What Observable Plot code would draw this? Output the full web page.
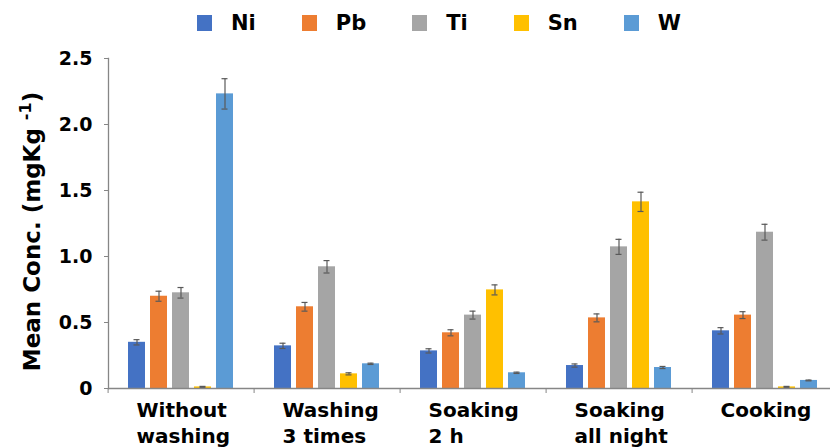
<!DOCTYPE html>
<html>
<head>
<meta charset="utf-8">
<script src="https://cdn.jsdelivr.net/npm/d3@7"></script>
<script src="https://cdn.jsdelivr.net/npm/@observablehq/plot@0.6"></script>
<style>
  html, body { margin: 0; padding: 0; background: #fff; overflow: hidden; }
  #legend { display: flex; align-items: center; height: 45px; padding-left: 197px; box-sizing: border-box;
    font-family: "DejaVu Sans", sans-serif; font-weight: bold; font-size: 21px; color: #000; }
  #legend .sw { display: inline-block; width: 15px; height: 16px; margin-right: 19px; }
  #legend .it { display: flex; align-items: center; margin-right: 46px; }
</style>
</head>
<body>
<div id="legend"></div>
<div id="chart"></div>
<script>
// ---- data ----
const groups = ["Without washing", "Washing 3 times", "Soaking 2 h", "Soaking all night", "Cooking"];
const groupLabels = ["Without\nwashing", "Washing\n3 times", "Soaking\n2 h", "Soaking\nall night", "Cooking"];
const metals = ["Ni", "Pb", "Ti", "Sn", "W"];
const ni = [0.350, 0.323, 0.285, 0.174, 0.437];
const pb = [0.699, 0.619, 0.422, 0.535, 0.556];
const ti = [0.725, 0.922, 0.556, 1.073, 1.184];
const sn = [0.012, 0.111, 0.747, 1.414, 0.012];
const w  = [2.232, 0.187, 0.119, 0.159, 0.061];
const niErr = [0.020, 0.020, 0.016, 0.012, 0.024];
const pbErr = [0.038, 0.033, 0.023, 0.030, 0.026];
const tiErr = [0.040, 0.047, 0.030, 0.057, 0.060];
const snErr = [0.004, 0.008, 0.038, 0.073, 0.004];
const wErr  = [0.115, 0.005, 0.005, 0.008, 0.003];
const yTicks = [0, 0.5, 1.0, 1.5, 2.0, 2.5];
const yTitle = "Mean Conc. (mgKg -1)";
const colors = ["#4472C4", "#ED7D31", "#A5A5A5", "#FFC000", "#5B9BD5"];

const series = [ni, pb, ti, sn, w];
const errs = [niErr, pbErr, tiErr, snErr, wErr];
const data = [];
groups.forEach((g, gi) => metals.forEach((m, mi) => {
  data.push({group: g, metal: m, value: series[mi][gi], err: errs[mi][gi]});
}));

// ---- legend ----
const legend = document.getElementById("legend");
metals.forEach((m, i) => {
  const it = document.createElement("div"); it.className = "it";
  const sw = document.createElement("span"); sw.className = "sw"; sw.style.background = colors[i];
  const tx = document.createElement("span"); tx.textContent = m;
  it.appendChild(sw); it.appendChild(tx); legend.appendChild(it);
});

// ---- chart ----
const W = 830, H = 403, mL = 106, mR = -10, mT = 13, mB = 60;
const halfBand = (W - mL - mR) / groups.length / 2;
const axisColor = "#868686";

const chart = Plot.plot({
  width: W, height: H,
  marginLeft: mL, marginRight: mR, marginTop: mT, marginBottom: mB,
  style: {fontFamily: "DejaVu Sans", fontWeight: "bold", fontSize: "19px", color: "#000", background: "#fff", overflow: "visible"},
  fx: {domain: groups, padding: 0, label: null},
  x: {domain: metals, paddingInner: 0.225, paddingOuter: 0.86, axis: null},
  y: {domain: [0, 2.5], label: null},
  color: {domain: metals, range: colors},
  marks: [
    Plot.barY(data, {fx: "group", x: "metal", y: "value", fill: "metal"}),
    Plot.ruleX(data, {fx: "group", x: "metal", y1: d => d.value - d.err, y2: d => d.value + d.err, stroke: "#595959", strokeWidth: 1.2}),
    Plot.tickY(data, {fx: "group", x: "metal", y: d => d.value - d.err, stroke: "#595959", strokeWidth: 1.2, insetLeft: 5.5, insetRight: 5.5}),
    Plot.tickY(data, {fx: "group", x: "metal", y: d => d.value + d.err, stroke: "#595959", strokeWidth: 1.2, insetLeft: 5.5, insetRight: 5.5}),
    Plot.ruleY([0], {stroke: axisColor, strokeWidth: 1.3}),
    Plot.frame({anchor: "left", facetAnchor: "left", stroke: axisColor, strokeWidth: 1.3}),
    Plot.axisY({ticks: yTicks, tickFormat: d => d === 0 ? "0" : d.toFixed(1), tickSize: 4, tickPadding: 12,
      stroke: axisColor, fill: "#000", label: null, fontSize: 19}),
    Plot.axisFx({anchor: "bottom", tickSize: 5, tickFormat: () => "", dx: -halfBand, stroke: axisColor, label: null}),
    Plot.text(groups, {fx: d => d, text: (d, i) => groupLabels[i], frameAnchor: "bottom-left", textAnchor: "start",
      lineAnchor: "top", dx: 28, dy: 10, fontSize: 20, lineHeight: 1.3, fill: "#000"}),
    Plot.text([yTitle], {fx: () => groups[0], text: d => d, frameAnchor: "left", rotate: -90, dx: -76, dy: 8,
      textAnchor: "middle", lineAnchor: "middle", fontSize: 23, fill: "#000"})
  ]
});
document.getElementById("chart").appendChild(chart);

// superscript in y title
chart.querySelectorAll("text").forEach(t => {
  if (t.textContent === yTitle) {
    while (t.firstChild) t.removeChild(t.firstChild);
    const ns = "http://www.w3.org/2000/svg";
    const a = document.createElementNS(ns, "tspan"); a.textContent = "Mean Conc. (mgKg ";
    const b = document.createElementNS(ns, "tspan"); b.textContent = "-1"; b.setAttribute("dy", "-9"); b.setAttribute("font-size", "16");
    const c = document.createElementNS(ns, "tspan"); c.textContent = ")"; c.setAttribute("dy", "9");
    t.appendChild(a); t.appendChild(b); t.appendChild(c);
  }
});
</script>
</body>
</html>
